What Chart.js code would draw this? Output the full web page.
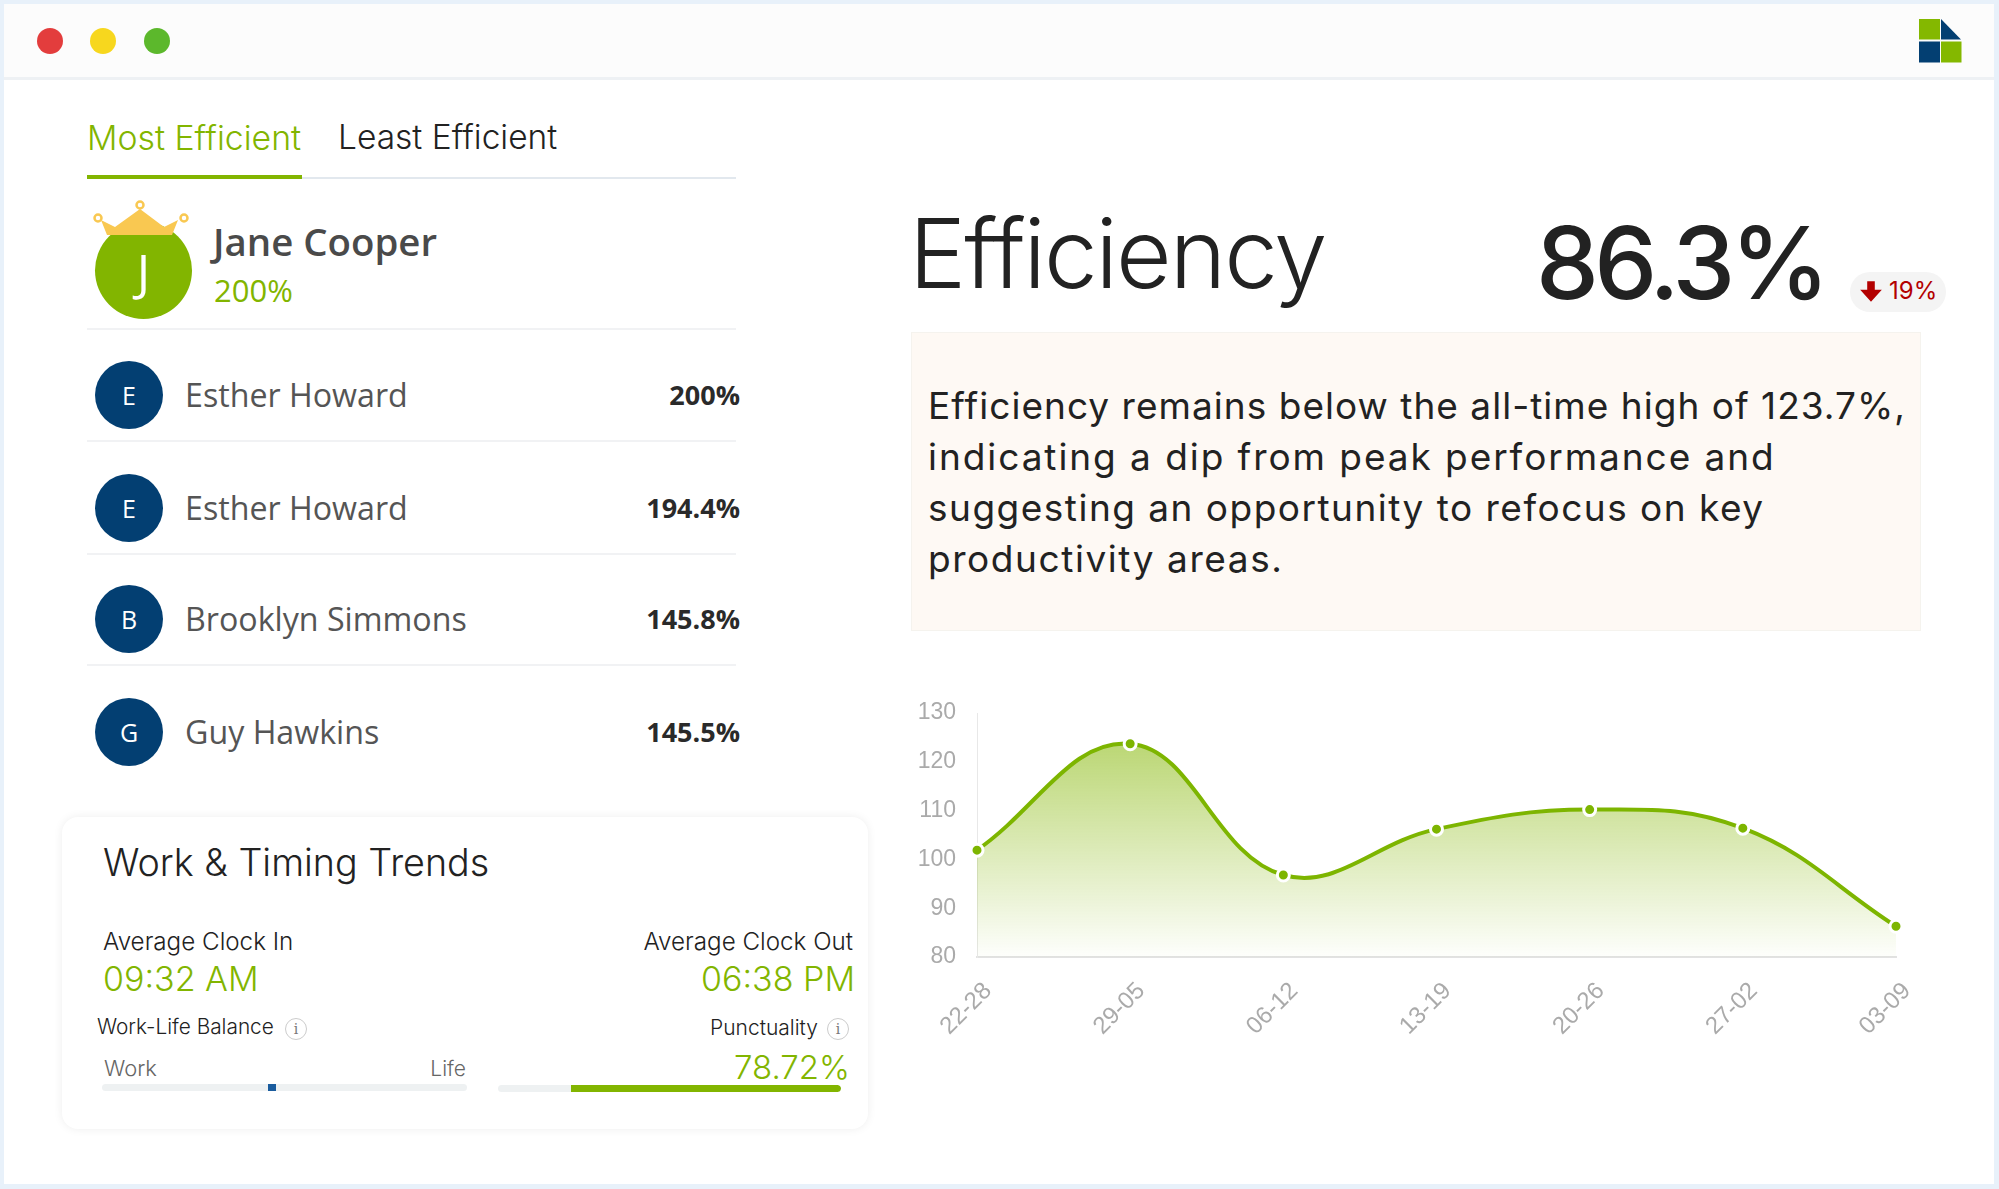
<!DOCTYPE html>
<html>
<head>
<meta charset="utf-8">
<title>Efficiency</title>
<script src="https://cdn.jsdelivr.net/npm/chart.js@4"></script>
<style>
  html, body { margin: 0; padding: 0; background: #fff; }
  #page { position: relative; width: 1999px; height: 1189px; overflow: hidden; background: #fff; font-family: Inter, sans-serif; color: #222; }
  #page > * { position: absolute; }
  .t { white-space: nowrap; line-height: 1; transform: translateY(-50%); }
  .r { transform: translate(-100%, -50%); }
  .os { font-family: "Open Sans", sans-serif; }
  .green { color: #82b500; }
  .dot { border-radius: 50%; }
  .avatar { border-radius: 50%; background: #033f72; color: #fff; display: flex; align-items: center; justify-content: center; font-family: "Open Sans", sans-serif; }
  .sep { height: 2px; background: #f1f2f4; left: 87px; width: 649px; }
  .info { width: 20px; height: 20px; border: 1.5px solid #ccc; border-radius: 50%; color: #777; font: 14px "DejaVu Serif", serif; display: flex; align-items: center; justify-content: center; }
  .track { background: #eef1f2; border-radius: 4px; overflow: hidden; }
</style>
</head>
<body>
<div id="page">
  <div style="left:0;top:0;width:1999px;height:1189px;border:solid #e8f1fa;border-width:4px 5px 5px 4px;box-sizing:border-box;"></div>
  <div style="left:4px;top:4px;width:1990px;height:73px;background:#fcfcfc;border-bottom:3px solid #eef1f4;"></div>
  <div class="dot" style="left:37px;top:28px;width:26px;height:26px;background:#e33d3d;"></div>
  <div class="dot" style="left:90px;top:28px;width:26px;height:26px;background:#f7d71e;"></div>
  <div class="dot" style="left:144px;top:28px;width:26px;height:26px;background:#5cb82c;"></div>

  <svg style="left:1919px;top:19px;" width="43" height="44" viewBox="0 0 43 44">
    <rect x="0" y="0" width="21" height="20.5" fill="#84b800"/>
    <polygon points="22,0 42,20.5 22,20.5" fill="#033f72"/>
    <rect x="0" y="22.5" width="21" height="21" fill="#033f72"/>
    <rect x="22" y="22.5" width="20.5" height="21" fill="#84b800"/>
  </svg>

  <div class="t green" style="left:87px;top:138px;font-size:33.8px;font-weight:300;">Most Efficient</div>
  <div class="t" style="left:338px;top:138px;font-size:33.5px;font-weight:300;">Least Efficient</div>
  <div style="left:87px;top:177px;width:649px;height:2px;background:#e2e8ee;"></div>
  <div style="left:87px;top:175px;width:215px;height:4px;background:#82b500;"></div>

  <div class="avatar" style="left:95px;top:222px;width:97px;height:97px;background:#82b500;font-size:50px;font-weight:400;">J</div>
  <svg style="left:92px;top:199px;" width="98" height="37" viewBox="0 0 98 37">
    <polygon points="9,21 23,28 48,10 72,28 86,21 80,36 15,36" fill="#f9c851"/>
    <circle cx="48" cy="6" r="3.5" fill="none" stroke="#f9c851" stroke-width="2.5"/>
    <circle cx="6" cy="19" r="3.5" fill="none" stroke="#f9c851" stroke-width="2.5"/>
    <circle cx="92" cy="19" r="3.5" fill="none" stroke="#f9c851" stroke-width="2.5"/>
  </svg>
  <div id="topName" class="t os" style="left:213px;top:241px;font-size:38.4px;font-weight:600;color:#4a4a4a;"></div>
  <div id="topScore" class="t os green" style="left:214px;top:290px;font-size:31px;"></div>
  <div class="sep" style="top:328px;"></div>

  <div id="rows" style="left:0;top:0;"></div>

  <div style="left:62px;top:817px;width:806px;height:312px;background:#fff;border-radius:16px;box-shadow:0 0 10px rgba(0,0,0,.07);"></div>
  <div class="t" style="left:103px;top:863px;font-size:37.7px;font-weight:300;">Work &amp; Timing Trends</div>
  <div class="t" style="left:103px;top:942px;font-size:24.2px;font-weight:300;">Average Clock In</div>
  <div class="t r" style="left:853px;top:942px;font-size:24.2px;font-weight:300;">Average Clock Out</div>
  <div id="clockIn" class="t green" style="left:103px;top:979px;font-size:34px;font-weight:300;"></div>
  <div id="clockOut" class="t r green" style="left:855px;top:979px;font-size:34px;font-weight:300;"></div>
  <div class="t" style="left:97px;top:1027px;font-size:20.8px;font-weight:300;">Work-Life Balance</div>
  <div class="info" style="left:285px;top:1018px;">i</div>
  <div class="t r" style="left:818px;top:1027px;font-size:21px;font-weight:300;">Punctuality</div>
  <div class="info" style="left:827px;top:1018px;">i</div>
  <div class="t" style="left:104px;top:1068px;font-size:22px;font-weight:300;color:#666;">Work</div>
  <div class="t r" style="left:466px;top:1068px;font-size:21px;font-weight:300;color:#666;">Life</div>
  <div class="track" style="left:102px;top:1084px;width:365px;height:7px;"></div>
  <div style="left:268px;top:1084px;width:8px;height:7px;background:#1a5c9e;"></div>
  <div id="punctLabel" class="t r green" style="left:850px;top:1067px;font-size:33px;font-weight:300;"></div>
  <div class="track" style="left:498px;top:1085px;width:343px;height:7px;"><div id="punctBar" style="height:100%;margin-left:auto;background:#82b500;border-radius:0 4px 4px 0;"></div></div>

  <div class="t" style="left:909px;top:253px;font-size:96px;font-weight:300;letter-spacing:-2px;">Efficiency</div>
  <div id="current" class="t" style="left:1536px;top:263px;font-size:100px;font-weight:500;letter-spacing:-4.7px;"></div>
  <div style="left:1850px;top:272px;width:96px;height:40px;background:#f4f4f4;border-radius:20px;"></div>
  <svg style="left:1858px;top:279px;" width="26" height="26" viewBox="0 0 24 24">
    <path d="M12 21 L2 10 L8.5 10 L8.5 2 L15.5 2 L15.5 10 L22 10 Z" fill="#b30000"/>
  </svg>
  <div id="change" class="t" style="left:1889px;top:291px;font-size:24px;color:#b30000;"></div>

  <div style="left:911px;top:332px;width:1010px;height:299px;background:#fef9f4;border:1px solid #f5f3ee;box-sizing:border-box;"></div>
  <div id="note"></div>

  <canvas id="chartEfficiency" width="1050" height="417" style="left:900px;top:690px;"></canvas>
</div>

<script>
const weekLabels = ['22-28', '29-05', '06-12', '13-19', '20-26', '27-02', '03-09'];
const efficiencyValues = [101.9, 123.7, 96.8, 106.2, 110.2, 106.4, 86.3];
const yMin = 80;
const yMax = 130;
const yStep = 10;

const employeeNames = ['Esther Howard', 'Esther Howard', 'Brooklyn Simmons', 'Guy Hawkins'];
const employeeScores = ['200%', '194.4%', '145.8%', '145.5%'];
const rowCenters = [395, 508, 619, 732];
const rowSeparators = [440, 553, 664];

const noteLines = [
  'Efficiency remains below the all-time high of 123.7%,',
  'indicating a dip from peak performance and',
  'suggesting an opportunity to refocus on key',
  'productivity areas.'
];
const noteCenters = [405, 456, 507, 558];
const noteSpacing = [1.03, 1.94, 1.49, 1.57];

const punctuality = 78.72;

document.getElementById('topName').textContent = 'Jane Cooper';
document.getElementById('topScore').textContent = '200%';
document.getElementById('clockIn').textContent = '09:32 AM';
document.getElementById('clockOut').textContent = '06:38 PM';
document.getElementById('punctLabel').textContent = punctuality + '%';
document.getElementById('punctBar').style.width = punctuality + '%';
document.getElementById('current').textContent = efficiencyValues[efficiencyValues.length - 1] + '%';
document.getElementById('change').textContent = '19%';

function renderRows() {
  const page = document.getElementById('page');
  employeeNames.forEach((name, i) => {
    const y = rowCenters[i];
    const row = document.createElement('div');
    row.style.cssText = 'left:0;top:0;';
    row.innerHTML = `
      <div class="avatar" style="position:absolute;left:95px;top:${y - 34}px;width:68px;height:68px;font-size:25px;">${name[0]}</div>
      <div class="t os" style="position:absolute;left:185px;top:${y}px;font-size:32.2px;color:#555;">${name}</div>
      <div class="t r os" style="position:absolute;left:740px;top:${y - 1}px;font-size:27px;font-weight:700;color:#2a2a2a;">${employeeScores[i]}</div>
    `;
    page.appendChild(row);
  });
  rowSeparators.forEach(y => {
    const sep = document.createElement('div');
    sep.className = 'sep';
    sep.style.top = y + 'px';
    page.appendChild(sep);
  });
}

function renderNote() {
  const page = document.getElementById('page');
  noteLines.forEach((line, i) => {
    const el = document.createElement('div');
    el.className = 't';
    el.style.cssText = `left:928px;top:${noteCenters[i]}px;font-size:37px;font-weight:400;letter-spacing:${noteSpacing[i]}px;`;
    el.textContent = line;
    page.appendChild(el);
  });
}

function areaGradient(context) {
  const { ctx, chartArea } = context.chart;
  if (!chartArea) return 'rgba(130,181,0,.3)';
  const gradient = ctx.createLinearGradient(0, chartArea.top, 0, chartArea.bottom);
  gradient.addColorStop(0, 'rgba(130,181,0,.62)');
  gradient.addColorStop(1, 'rgba(130,181,0,.01)');
  return gradient;
}

function buildChart() {
  const ctx = document.getElementById('chartEfficiency').getContext('2d');
  return new Chart(ctx, {
    type: 'line',
    data: {
      labels: weekLabels,
      datasets: [
        {
          data: efficiencyValues,
          borderColor: '#7db500',
          borderWidth: 4,
          tension: 0.4,
          fill: 'start',
          backgroundColor: areaGradient,
          pointRadius: 6,
          pointBackgroundColor: '#7db500',
          pointBorderColor: '#fff',
          pointBorderWidth: 3,
          clip: false
        }
      ]
    },
    options: {
      responsive: false,
      animation: false,
      layout: { padding: { top: 23, right: 54, bottom: 0, left: 0 } },
      plugins: {
        legend: { display: false },
        tooltip: { enabled: false }
      },
      scales: {
        x: {
          afterFit: scale => { scale.height = 150; },
          grid: { drawOnChartArea: false, drawTicks: false },
          border: { color: '#e2e2e2', width: 2 },
          ticks: {
            color: '#aaaaaa',
            font: { family: 'Liberation Sans', size: 24 },
            autoSkip: false,
            minRotation: 45,
            maxRotation: 45,
            padding: 20,
            labelOffset: 11
          }
        },
        y: {
          min: yMin,
          max: yMax,
          afterFit: scale => {
            scale.width = 77;
            // tick padding would otherwise push the plot top down
            scale.paddingTop = 0;
            scale.paddingBottom = 0;
          },
          grid: { drawOnChartArea: false, drawTicks: false },
          border: { color: '#e8e8e8', width: 1 },
          ticks: {
            stepSize: yStep,
            color: '#aaaaaa',
            font: { family: 'Liberation Sans', size: 23 },
            padding: 21
          }
        }
      }
    }
  });
}

renderRows();
renderNote();
buildChart();
</script>
</body>
</html>
